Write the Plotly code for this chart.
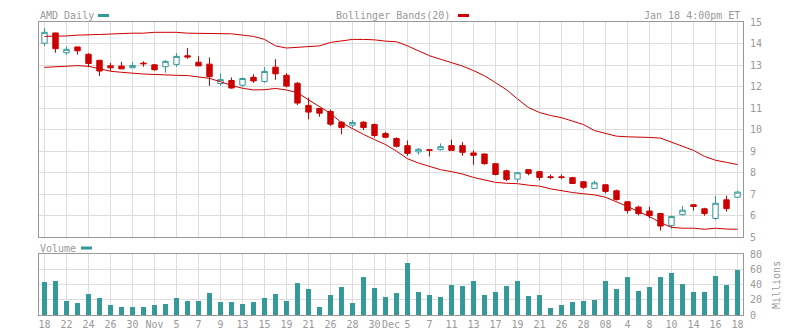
import plotly.graph_objects as go

# ---------------- data ----------------
dates = [
    "2007-10-18", "2007-10-19", "2007-10-22", "2007-10-23", "2007-10-24", "2007-10-25", "2007-10-26",
    "2007-10-29", "2007-10-30", "2007-10-31",
    "2007-11-01", "2007-11-02", "2007-11-05", "2007-11-06", "2007-11-07", "2007-11-08", "2007-11-09",
    "2007-11-12", "2007-11-13", "2007-11-14", "2007-11-15", "2007-11-16", "2007-11-19", "2007-11-20",
    "2007-11-21", "2007-11-23", "2007-11-26", "2007-11-27", "2007-11-28", "2007-11-29", "2007-11-30",
    "2007-12-03", "2007-12-04", "2007-12-05", "2007-12-06", "2007-12-07", "2007-12-10", "2007-12-11",
    "2007-12-12", "2007-12-13", "2007-12-14", "2007-12-17", "2007-12-18", "2007-12-19", "2007-12-20",
    "2007-12-21", "2007-12-24", "2007-12-26", "2007-12-27", "2007-12-28", "2007-12-31",
    "2008-01-02", "2008-01-03", "2008-01-04", "2008-01-07", "2008-01-08", "2008-01-09", "2008-01-10",
    "2008-01-11", "2008-01-14", "2008-01-15", "2008-01-16", "2008-01-17", "2008-01-18",
]

opens = [14.01, 14.49, 13.57, 13.84, 13.50, 13.22, 12.96, 12.95, 12.87, 13.09,
         13.01, 12.92, 13.03, 13.43, 13.13, 13.04, 12.14, 12.28, 12.06, 12.43,
         12.23, 12.90, 12.52, 12.15, 11.12, 10.98, 10.84, 10.34, 10.20, 10.34,
         10.23, 9.81, 9.58, 9.25, 8.96, 9.06, 9.06, 9.25, 9.25, 8.91,
         8.86, 8.41, 8.08, 7.69, 8.13, 8.04, 7.80, 7.80, 7.76, 7.57,
         7.26, 7.43, 7.15, 6.64, 6.39, 6.21, 6.09, 5.53, 6.04, 6.50,
         6.31, 5.86, 6.73, 6.85]
highs = [14.72, 14.50, 13.85, 13.85, 13.55, 13.23, 13.09, 13.15, 13.13, 13.17,
         13.04, 13.23, 13.55, 13.79, 13.41, 13.35, 12.60, 12.42, 12.42, 12.57,
         12.90, 13.27, 12.62, 12.21, 11.48, 11.00, 10.93, 10.39, 10.45, 10.39,
         10.28, 9.89, 9.64, 9.49, 9.14, 9.06, 9.35, 9.53, 9.41, 9.03,
         8.88, 8.43, 8.13, 8.02, 8.14, 8.05, 7.91, 7.91, 7.80, 7.58,
         7.62, 7.44, 7.20, 6.65, 6.46, 6.40, 6.10, 6.00, 6.45, 6.53,
         6.36, 6.92, 6.92, 7.15]
lows = [13.89, 13.57, 13.48, 13.48, 12.90, 12.49, 12.73, 12.81, 12.86, 12.92,
        12.73, 12.64, 12.92, 13.29, 12.95, 12.03, 12.03, 11.90, 11.98, 12.17,
        12.18, 12.31, 11.96, 11.14, 10.47, 10.59, 10.16, 9.78, 10.09, 9.97,
        9.63, 9.59, 9.16, 8.78, 8.83, 8.75, 9.02, 9.02, 8.78, 8.36,
        8.36, 7.87, 7.60, 7.54, 7.87, 7.63, 7.69, 7.69, 7.48, 7.24,
        7.25, 7.03, 6.70, 6.09, 6.00, 5.87, 5.30, 5.39, 6.00, 6.23,
        5.99, 5.81, 6.18, 6.81]
closes = [14.52, 13.76, 13.73, 13.66, 13.07, 12.72, 12.87, 12.82, 12.98, 13.06,
          12.78, 13.17, 13.40, 13.37, 12.96, 12.46, 12.32, 11.93, 12.37, 12.26,
          12.70, 12.59, 12.02, 11.23, 10.81, 10.76, 10.25, 10.09, 10.33, 10.09,
          9.72, 9.64, 9.22, 8.89, 9.08, 9.03, 9.20, 9.03, 8.94, 8.80,
          8.41, 7.91, 7.68, 7.99, 7.96, 7.77, 7.77, 7.77, 7.49, 7.31,
          7.52, 7.12, 6.74, 6.23, 6.09, 6.00, 5.51, 5.95, 6.25, 6.42,
          6.09, 6.57, 6.32, 7.09]

volumes = [43.3, 44.6, 18.4, 15.7, 27.5, 22.3, 13.1, 10.5, 10.5, 10.5,
           13.1, 14.4, 22.3, 18.4, 18.4, 28.8, 17.0, 17.0, 14.4, 17.0,
           22.3, 27.5, 18.4, 41.9, 34.1, 10.5, 26.2, 36.7, 15.7, 49.8,
           35.4, 23.6, 28.8, 68.2, 30.2, 26.2, 23.6, 39.3, 38.0, 44.6,
           26.2, 30.2, 38.0, 44.6, 24.9, 26.2, 9.2, 13.1, 17.0, 18.4,
           19.7, 44.6, 34.1, 49.8, 31.5, 36.7, 49.8, 55.1, 40.6, 30.2,
           30.2, 51.1, 39.3, 59.0]

bb_upper = [14.33, 14.33, 14.35, 14.39, 14.39, 14.42, 14.44, 14.47, 14.48, 14.48,
            14.52, 14.52, 14.52, 14.48, 14.47, 14.47, 14.47, 14.45, 14.39, 14.33,
            14.19, 13.89, 13.79, 13.82, 13.86, 13.89, 14.05, 14.13, 14.19, 14.19,
            14.17, 14.11, 14.08, 13.89, 13.66, 13.43, 13.27, 13.12, 12.95, 12.74,
            12.50, 12.18, 11.85, 11.42, 11.02, 10.79, 10.65, 10.55, 10.40, 10.23,
            9.95, 9.83, 9.69, 9.66, 9.66, 9.63, 9.60, 9.41, 9.22, 9.03,
            8.75, 8.57, 8.47, 8.37]
bb_lower = [12.89, 12.92, 12.97, 12.97, 12.94, 12.82, 12.71, 12.66, 12.61, 12.58,
            12.56, 12.53, 12.52, 12.51, 12.45, 12.38, 12.22, 12.05, 11.92, 11.84,
            11.85, 11.91, 11.84, 11.71, 11.38, 11.05, 10.75, 10.31, 10.03, 9.77,
            9.53, 9.30, 8.99, 8.64, 8.44, 8.27, 8.13, 8.04, 7.93, 7.77,
            7.66, 7.54, 7.50, 7.48, 7.41, 7.37, 7.24, 7.15, 7.07, 7.01,
            6.96, 6.85, 6.65, 6.42, 6.18, 5.95, 5.67, 5.45, 5.41, 5.41,
            5.36, 5.41, 5.37, 5.36]

tick_idx = [0, 2, 4, 6, 8, 10, 12, 14, 16, 18, 20, 22, 24, 26, 28, 30, 31, 33, 35, 37,
            39, 41, 43, 45, 47, 49, 51, 53, 55, 57, 59, 61, 63]
tick_text = ["18", "22", "24", "26", "30", "Nov", "5", "7", "9", "13", "15", "19", "21",
             "26", "28", "30", "Dec", "5", "7", "11", "13", "17", "19", "21", "26", "28",
             "08", "4", "8", "10", "14", "16", "18"]
price_ticks = [5, 6, 7, 8, 9, 10, 11, 12, 13, 14, 15]
volume_ticks = [0, 20, 40, 60, 80]

# ---------------- style ----------------
TEAL = "#339999"
RED = "#cc0000"
GRID = "#dddddd"
FRAME = "#999999"
TXT = "#999999"
FONT = "DejaVu Sans Mono"

W, H = 797, 330
ML, MR, MT, MB = 39, 54, 22, 15
PW = W - ML - MR
PH = H - MT - MB


def px_x(x):
    return (x - ML) / PW


def px_y(y):
    return (H - MB - y) / PH


tickvals = [dates[i] for i in tick_idx]
# "Dec" sits right next to "30" in the reference; draw it as a nudged annotation
# so the two labels do not collide.
shown_ticktext = [("" if t == "Dec" else t) for t in tick_text]
dec_pos = tick_text.index("Dec")

fig = go.Figure()
fig.add_trace(go.Candlestick(
    x=dates, open=opens, high=highs, low=lows, close=closes,
    increasing=dict(line=dict(color=TEAL, width=1), fillcolor="white"),
    decreasing=dict(line=dict(color=RED, width=1), fillcolor=RED),
    whiskerwidth=0, xaxis="x", yaxis="y", showlegend=False, hoverinfo="skip",
))
fig.add_trace(go.Scatter(x=dates, y=bb_upper, mode="lines", line=dict(color=RED, width=1),
                         xaxis="x", yaxis="y", showlegend=False, hoverinfo="skip"))
fig.add_trace(go.Scatter(x=dates, y=bb_lower, mode="lines", line=dict(color=RED, width=1),
                         xaxis="x", yaxis="y", showlegend=False, hoverinfo="skip"))
fig.add_trace(go.Bar(x=dates, y=volumes, marker=dict(color=TEAL, line=dict(width=0)), width=0.45,
                     xaxis="x2", yaxis="y2", showlegend=False, hoverinfo="skip"))

common_x = dict(type="category", range=[-0.5, len(dates) - 0.5], tickmode="array",
                tickvals=tickvals, showgrid=True, gridcolor=GRID, gridwidth=1,
                showline=True, mirror=True, linecolor=FRAME, linewidth=1,
                ticks="", zeroline=False, fixedrange=True, automargin=False, tickangle=0)
common_y = dict(side="right", showgrid=True, gridcolor=GRID, gridwidth=1, showline=True,
                mirror=True, linecolor=FRAME, linewidth=1, ticks="", zeroline=False,
                tickfont=dict(family=FONT, size=10, color=TXT), ticklabelstandoff=4,
                fixedrange=True, automargin=False)

price_bottom = px_y(237)
vol_top = px_y(254)

fig.update_layout(
    width=W, height=H,
    margin=dict(l=ML, r=MR, t=MT, b=MB, pad=0, autoexpand=False),
    paper_bgcolor="white", plot_bgcolor="white",
    font=dict(family=FONT, size=10, color=TXT),
    hovermode=False, showlegend=False,
    xaxis=dict(common_x, anchor="y", domain=[0, 1], showticklabels=False,
               rangeslider=dict(visible=False)),
    xaxis2=dict(common_x, anchor="y2", domain=[0, 1], ticktext=shown_ticktext,
                showticklabels=True, tickfont=dict(family=FONT, size=10, color=TXT)),
    yaxis=dict(common_y, anchor="x", domain=[price_bottom, 1], range=[5, 15],
               tickmode="array", tickvals=price_ticks),
    yaxis2=dict(common_y, anchor="x2", domain=[0, vol_top], range=[0, 80],
                tickmode="array", tickvals=volume_ticks),
)

ann_font = dict(family=FONT, size=10, color=TXT)
fig.add_annotation(text="Dec", xref="x2", yref="paper", x=tickvals[dec_pos], y=px_y(315),
                   xanchor="left", yanchor="top", xshift=-5, yshift=-3, showarrow=False,
                   borderpad=0, font=ann_font)
fig.add_annotation(text="AMD Daily", xref="paper", yref="paper", x=px_x(38), y=px_y(15.5),
                   xanchor="left", yanchor="middle", showarrow=False, font=ann_font)
fig.add_annotation(text="Bollinger Bands(20)", xref="paper", yref="paper", x=px_x(452), y=px_y(15.5),
                   xanchor="right", yanchor="middle", showarrow=False, font=ann_font)
fig.add_annotation(text="Jan 18 4:00pm ET", xref="paper", yref="paper", x=px_x(742), y=px_y(15.5),
                   xanchor="right", yanchor="middle", showarrow=False, font=ann_font)
fig.add_annotation(text="Volume", xref="paper", yref="paper", x=px_x(38), y=px_y(248),
                   xanchor="left", yanchor="middle", showarrow=False, font=ann_font)
fig.add_annotation(text="Millions", xref="paper", yref="paper", x=px_x(776), y=px_y(285),
                   xanchor="center", yanchor="middle", textangle=-90, showarrow=False, font=ann_font)

# legend swatches
fig.add_shape(type="rect", xref="paper", yref="paper", x0=px_x(98), x1=px_x(109),
              y0=px_y(17), y1=px_y(14), fillcolor=TEAL, line=dict(width=0))
fig.add_shape(type="rect", xref="paper", yref="paper", x0=px_x(458), x1=px_x(469),
              y0=px_y(17), y1=px_y(14), fillcolor=RED, line=dict(width=0))
fig.add_shape(type="rect", xref="paper", yref="paper", x0=px_x(81), x1=px_x(92),
              y0=px_y(249.5), y1=px_y(246.5), fillcolor=TEAL, line=dict(width=0))

fig.write_html("out.html", config=dict(displayModeBar=False, staticPlot=True))
